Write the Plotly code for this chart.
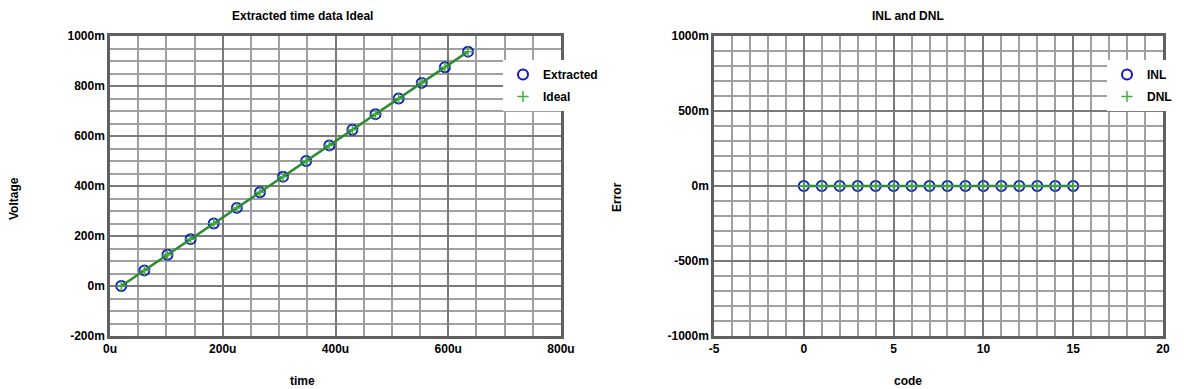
import plotly.graph_objects as go

# ---- data ----
time_us = [20, 61, 102, 143, 184, 225, 266, 307, 348, 389, 430, 471, 512, 553, 594, 635]
extracted_mV = [0, 62.5, 125, 187.5, 250, 312.5, 375, 437.5, 500, 562.5, 625, 687.5, 750, 812.5, 875, 937.5]
ideal_mV = [0, 62.5, 125, 187.5, 250, 312.5, 375, 437.5, 500, 562.5, 625, 687.5, 750, 812.5, 875, 937.5]

codes = [0, 1, 2, 3, 4, 5, 6, 7, 8, 9, 10, 11, 12, 13, 14, 15]
inl_mV = [0, 0, 0, 0, 0, 0, 0, 0, 0, 0, 0, 0, 0, 0, 0, 0]
dnl_mV = [0, 0, 0, 0, 0, 0, 0, 0, 0, 0, 0, 0, 0, 0, 0, 0]

left_xticks = [0, 200, 400, 600, 800]
left_xticktext = ["0u", "200u", "400u", "600u", "800u"]
left_yticks = [-200, 0, 200, 400, 600, 800, 1000]
left_yticktext = ["-200m", "0m", "200m", "400m", "600m", "800m", "1000m"]
right_xticks = [-5, 0, 5, 10, 15, 20]
right_xticktext = ["-5", "0", "5", "10", "15", "20"]
right_yticks = [-1000, -500, 0, 500, 1000]
right_yticktext = ["-1000m", "-500m", "0m", "500m", "1000m"]

W, H = 1184, 389
BLUE = "#1414c8"
GREEN_LINE = "#2e8b34"
GREEN_MARK = "#3fae3f"
FONT = "Liberation Sans, Arial, sans-serif"


def px_x(p):
    return p / W


def px_y(p):
    return 1 - p / H


fig = go.Figure()

# left subplot
fig.add_trace(go.Scatter(x=time_us, y=extracted_mV, mode="markers", name="Extracted", legendgroup="ext",
                         marker=dict(symbol="circle-open", size=10, color=BLUE, line=dict(width=2, color=BLUE)),
                         xaxis="x", yaxis="y", legend="legend"))
fig.add_trace(go.Scatter(x=time_us, y=ideal_mV, mode="lines", name="Ideal", showlegend=False, legendgroup="ideal",
                         line=dict(color=GREEN_LINE, width=2.5), xaxis="x", yaxis="y", legend="legend"))
fig.add_trace(go.Scatter(x=time_us, y=ideal_mV, mode="markers", name="Ideal", legendgroup="ideal",
                         marker=dict(symbol="cross-thin-open", size=8, color=GREEN_MARK, line=dict(width=1.5, color=GREEN_MARK)),
                         xaxis="x", yaxis="y", legend="legend"))

# right subplot
fig.add_trace(go.Scatter(x=codes, y=inl_mV, mode="markers", name="INL", legendgroup="inl",
                         marker=dict(symbol="circle-open", size=10, color=BLUE, line=dict(width=2, color=BLUE)),
                         xaxis="x2", yaxis="y2", legend="legend2"))
fig.add_trace(go.Scatter(x=codes, y=dnl_mV, mode="lines", name="DNL", showlegend=False, legendgroup="dnl",
                         line=dict(color=GREEN_LINE, width=2.5), xaxis="x2", yaxis="y2", legend="legend2"))
fig.add_trace(go.Scatter(x=codes, y=dnl_mV, mode="markers", name="DNL", legendgroup="dnl",
                         marker=dict(symbol="cross-thin-open", size=8, color=GREEN_MARK, line=dict(width=1.5, color=GREEN_MARK)),
                         xaxis="x2", yaxis="y2", legend="legend2"))

MAJOR = "#7a7a7a"
MINOR = "#a0a0a0"
BORDER = "#606060"
tickfont = dict(family=FONT, size=12, color="#000000", weight="bold")


def axis(domain, rng, tickvals, ticktext, minor_dtick, anchor):
    return dict(domain=domain, range=rng, tickmode="array", tickvals=tickvals, ticktext=ticktext,
                showgrid=True, gridcolor=MAJOR, gridwidth=2, zeroline=False,
                showline=True, mirror=True, linecolor=BORDER, linewidth=2.5,
                ticks="", tickfont=tickfont, anchor=anchor, fixedrange=True, automargin=False,
                minor=dict(tickmode="linear", tick0=0, dtick=minor_dtick, showgrid=True,
                           gridcolor=MINOR, gridwidth=1.5, ticks=""))


legend_font = dict(family=FONT, size=12, color="#000000", weight="bold")
ydom = [px_y(336), px_y(36)]
fig.update_layout(
    width=W, height=H, margin=dict(l=0, r=0, t=0, b=0, pad=0, autoexpand=False),
    paper_bgcolor="white", plot_bgcolor="white",
    font=dict(family=FONT, size=12, color="#000000"),
    xaxis=axis([px_x(110), px_x(561)], [0, 800], left_xticks, left_xticktext, 50, "y"),
    yaxis=axis(ydom, [-200, 1000], left_yticks, left_yticktext, 50, "x"),
    xaxis2=axis([px_x(714), px_x(1163)], [-5, 20], right_xticks, right_xticktext, 1, "y2"),
    yaxis2=axis(ydom, [-1000, 1000], right_yticks, right_yticktext, 100, "x2"),
    legend=dict(x=px_x(503), y=px_y(60), xanchor="left", yanchor="top", bgcolor="white",
                font=legend_font, borderwidth=0, traceorder="grouped", tracegroupgap=3),
    legend2=dict(x=px_x(1107), y=px_y(60), xanchor="left", yanchor="top", bgcolor="white",
                 font=legend_font, borderwidth=0, traceorder="grouped", tracegroupgap=3),
    showlegend=True,
)

ann_font = dict(family=FONT, size=12, color="#000000", weight="bold")
annotations = [
    dict(text="Extracted time data Ideal", x=px_x(302), y=px_y(16)),
    dict(text="INL and DNL", x=px_x(908), y=px_y(16)),
    dict(text="time", x=px_x(302), y=px_y(381)),
    dict(text="code", x=px_x(908), y=px_y(381)),
    dict(text="Voltage", x=px_x(14), y=px_y(199), textangle=-90),
    dict(text="Error", x=px_x(617), y=px_y(197), textangle=-90),
]
for a in annotations:
    fig.add_annotation(xref="paper", yref="paper", showarrow=False, xanchor="center", yanchor="middle",
                       font=ann_font, **a)

fig.write_html("out.html", config={"displayModeBar": False},
               post_script="document.body.style.margin='0px';document.body.style.overflow='hidden';")
